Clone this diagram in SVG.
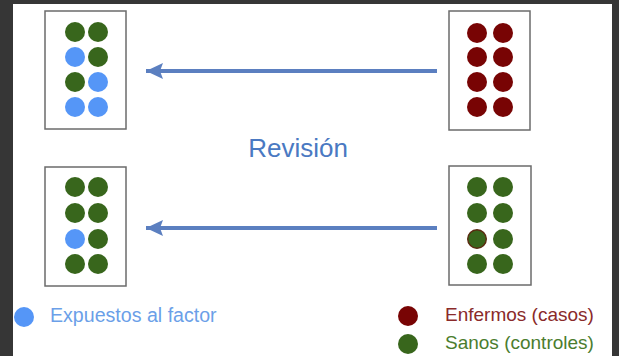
<svg xmlns="http://www.w3.org/2000/svg" width="619" height="356" viewBox="0 0 619 356">
<defs>
<style>
.box{fill:#fff;stroke:#6b6b6b;stroke-width:1.5}
.g{fill:#38661c}
.b{fill:#5596f7}
.r{fill:#780404}
.lbl{font-family:"Liberation Sans",Arial,sans-serif;font-size:19px}
.conn{stroke:#5b7fc0;stroke-width:4;fill:none}
</style>
<marker id="ah" markerUnits="userSpaceOnUse" markerWidth="18" markerHeight="16" refX="17" refY="8" orient="auto">
<path d="M0,0 L17,8 L0,16 L3,8 Z" fill="#5b7fc0"/>
</marker>
</defs>
<rect x="0" y="0" width="619" height="356" fill="#363636"/>
<rect x="13" y="4" width="599" height="352" fill="#ffffff"/>

<g id="connectors">
<line class="conn" x1="437" y1="71" x2="146" y2="71" marker-end="url(#ah)"/>
<line class="conn" x1="437" y1="228" x2="146" y2="228" marker-end="url(#ah)"/>
</g>

<g id="box-top-left">
<rect class="box" x="45" y="11" width="81" height="118"/>
<circle class="g" cx="75" cy="32" r="10"/><circle class="g" cx="98" cy="32" r="10"/>
<circle class="b" cx="75" cy="57" r="10"/><circle class="g" cx="98" cy="57" r="10"/>
<circle class="g" cx="75" cy="82" r="10"/><circle class="b" cx="98" cy="82" r="10"/>
<circle class="b" cx="75" cy="107" r="10"/><circle class="b" cx="98" cy="107" r="10"/>
</g>

<g id="box-top-right">
<rect class="box" x="449" y="11" width="81" height="119"/>
<circle class="r" cx="477" cy="33" r="10"/><circle class="r" cx="503" cy="33" r="10"/>
<circle class="r" cx="477" cy="57" r="10"/><circle class="r" cx="503" cy="57" r="10"/>
<circle class="r" cx="477" cy="82" r="10"/><circle class="r" cx="503" cy="82" r="10"/>
<circle class="r" cx="477" cy="107" r="10"/><circle class="r" cx="503" cy="107" r="10"/>
</g>

<g id="box-bottom-left">
<rect class="box" x="45" y="167" width="81" height="119"/>
<circle class="g" cx="75" cy="187" r="10"/><circle class="g" cx="98" cy="187" r="10"/>
<circle class="g" cx="75" cy="213" r="10"/><circle class="g" cx="98" cy="213" r="10"/>
<circle class="b" cx="75" cy="239" r="10"/><circle class="g" cx="98" cy="239" r="10"/>
<circle class="g" cx="75" cy="264" r="10"/><circle class="g" cx="98" cy="264" r="10"/>
</g>

<g id="box-bottom-right">
<rect class="box" x="449" y="166" width="82" height="119"/>
<circle class="g" cx="477" cy="187" r="10"/><circle class="g" cx="503" cy="187" r="10"/>
<circle class="g" cx="477" cy="213" r="10"/><circle class="g" cx="503" cy="213" r="10"/>
<circle class="g" cx="477" cy="239" r="9.3" stroke="#5a2a10" stroke-width="1.4"/><circle class="g" cx="503" cy="239" r="10"/>
<circle class="g" cx="477" cy="264" r="10"/><circle class="g" cx="503" cy="264" r="10"/>
</g>

<g id="title">
<text x="298" y="157" text-anchor="middle" font-family="Liberation Sans, Arial, sans-serif" font-size="26" fill="#4a79c2">Revisión</text>
</g>

<g id="legend-expuestos">
<circle class="b" cx="24" cy="317" r="10"/>
<text class="lbl" x="50" y="322" fill="#6b9fe8" style="font-size:19.6px">Expuestos al factor</text>
</g>
<g id="legend-enfermos">
<circle class="r" cx="408" cy="316" r="10"/>
<text class="lbl" x="445" y="321" fill="#8a2a2a">Enfermos (casos)</text>
</g>
<g id="legend-sanos">
<circle class="g" cx="408" cy="344" r="10"/>
<text class="lbl" x="445" y="349" fill="#4b7d2e">Sanos (controles)</text>
</g>
</svg>
